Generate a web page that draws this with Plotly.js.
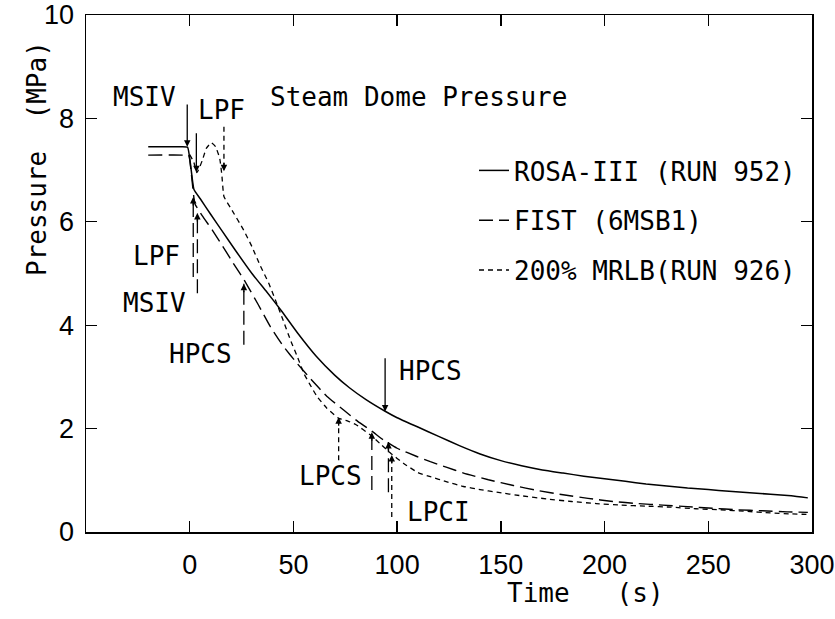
<!DOCTYPE html>
<html>
<head>
<meta charset="utf-8">
<script src="https://cdn.plot.ly/plotly-3.0.1.min.js"></script>
<style>html,body{margin:0;padding:0;background:#fff;}#chart{width:835px;height:619px;}</style>
</head>
<body>
<div id="chart"></div>
<script>
// ---- data ----
const seriesNames = ["ROSA-III (RUN 952)", "FIST (6MSB1)", "200% MRLB(RUN 926)"];

const rosaT = [-20, -4, -1, 2, 5, 10, 16, 22, 30, 37, 44, 52, 61, 70, 77, 85, 94, 100, 110, 120, 130, 140, 150, 160, 170, 180, 190, 200, 210, 220, 230, 240, 250, 260, 270, 280, 290, 298];
const rosaP = [7.45, 7.45, 7.44, 6.63, 6.45, 6.15, 5.80, 5.45, 5.00, 4.65, 4.29, 3.85, 3.40, 3.03, 2.79, 2.56, 2.34, 2.21, 2.03, 1.85, 1.67, 1.51, 1.38, 1.28, 1.20, 1.14, 1.08, 1.03, 0.98, 0.93, 0.89, 0.85, 0.82, 0.79, 0.76, 0.73, 0.70, 0.66];

const fistT = [-20, -3, -0.5, 1, 2.5, 6, 10.9, 16, 21, 26.9, 33, 38.9, 45, 51.8, 59, 66.2, 74.2, 81, 87.8, 93.4, 100, 109.5, 116, 124, 132, 144, 156, 168, 180, 192, 204, 216, 228, 240, 252, 264, 276, 288, 298];
const fistP = [7.29, 7.29, 7.28, 6.85, 6.35, 6.12, 5.84, 5.52, 5.20, 4.83, 4.40, 3.97, 3.60, 3.26, 2.93, 2.62, 2.36, 2.14, 1.95, 1.78, 1.62, 1.46, 1.36, 1.25, 1.14, 1.01, 0.90, 0.80, 0.72, 0.65, 0.59, 0.55, 0.52, 0.49, 0.46, 0.43, 0.41, 0.39, 0.38];

const mrlbT = [0, 2, 3.5, 6, 8, 10.4, 12.5, 14.5, 15.5, 16.5, 20, 26, 30, 34, 38, 41.3, 45, 48.6, 52, 55, 58, 61.4, 66, 71.8, 76, 80, 87, 92, 97, 103, 110, 116, 124, 132, 140, 148, 160, 172, 184, 196, 208, 220, 232, 244, 256, 268, 280, 290, 298];
const mrlbP = [7.30, 7.15, 6.95, 7.18, 7.42, 7.53, 7.45, 7.22, 6.90, 6.49, 6.25, 5.84, 5.52, 5.15, 4.82, 4.49, 4.10, 3.71, 3.38, 3.07, 2.85, 2.62, 2.40, 2.20, 2.15, 2.08, 1.88, 1.70, 1.52, 1.33, 1.15, 1.07, 0.97, 0.88, 0.82, 0.77, 0.70, 0.64, 0.59, 0.55, 0.52, 0.50, 0.48, 0.45, 0.43, 0.40, 0.37, 0.35, 0.34];

const xTickVals = [0, 50, 100, 150, 200, 250, 300];
const xTickText = ["0", "50", "100", "150", "200", "250", "300"];
const yTickVals = [0, 2, 4, 6, 8, 10];
const yTickText = ["0", "2", "4", "6", "8", "10"];

// event markers: [time, pressure at tip, pressure at tail]
const solidEvents  = [[-1.2, 7.45, 8.30], [3.2, 6.96, 7.74], [94.2, 2.33, 3.39]];
const dashedEvents = [[1.7, 6.48, 4.93], [3.7, 6.17, 4.62], [26.1, 4.80, 3.62], [87.8, 1.93, 0.81], [95.8, 1.74, 0.77]];
const dottedEvents = [[16.5, 6.98, 7.84], [71.8, 2.22, 1.39], [97.4, 1.49, 0.29]];

// ---- layout helpers ----
const L = 86, R = 812, T = 15, B = 532;
const px = v => (v - L) / (R - L);
const py = v => (B - v) / (B - T);
const MONO = "DejaVu Sans Mono";
const SANS = "Liberation Sans";
const LONGDASH = "14px,6px";
const SHORTDASH = "5px,4px";

const traces = [
  {x: rosaT, y: rosaP, name: seriesNames[0], legendgroup: "a", mode: "lines", line: {color: "#000", width: 1.5, shape: "spline", smoothing: 0.4}},
  {x: fistT, y: fistP, name: seriesNames[1], legendgroup: "b", mode: "lines", line: {color: "#000", width: 1.4, dash: LONGDASH, shape: "spline", smoothing: 0.4}},
  {x: mrlbT, y: mrlbP, name: seriesNames[2], legendgroup: "c", mode: "lines", line: {color: "#000", width: 1.3, dash: SHORTDASH, shape: "spline", smoothing: 0.4}}
];

const txt = (text, x, y, xanchor) => ({text, x: px(x), y: py(y), xref: "paper", yref: "paper", xanchor, yanchor: "middle", showarrow: false, font: {family: MONO, size: 26, color: "#000"}});

const annotations = [
  txt("MSIV", 144, 97, "center"),
  txt("LPF", 196, 110, "left"),
  txt("Steam Dome Pressure", 268, 97, "left"),
  txt("LPF", 182, 256, "right"),
  txt("MSIV", 188, 303, "right"),
  txt("HPCS", 234, 354, "right"),
  txt("HPCS", 397, 371, "left"),
  txt("LPCS", 364, 476, "right"),
  txt("LPCI", 405, 512, "left"),
  txt("Time   (s)", 505, 593, "left"),
  Object.assign(txt("Pressure  (MPa)", 37, 159, "center"), {textangle: -90})
];

const shapes = [];
solidEvents.forEach(e => annotations.push({x: e[0], y: e[1], ax: e[0], ay: e[2], xref: "x", yref: "y", axref: "x", ayref: "y", text: "", showarrow: true, arrowhead: 2, arrowsize: 1, arrowwidth: 1.3, arrowcolor: "#000"}));
[[dashedEvents, LONGDASH], [dottedEvents, SHORTDASH]].forEach(([list, dash]) => {
  list.forEach(e => {
    shapes.push({type: "line", xref: "x", yref: "y", x0: e[0], x1: e[0], y0: e[2], y1: e[1], line: {color: "#000", width: 1.3, dash}});
    annotations.push({x: e[0], y: e[1], ax: 0, ay: e[2] < e[1] ? 10 : -10, xref: "x", yref: "y", text: "", showarrow: true, arrowhead: 2, arrowsize: 1, arrowwidth: 1.3, arrowcolor: "#000"});
  });
});

const axisCommon = {showline: true, linecolor: "#000", linewidth: 1.5, mirror: "ticks", ticks: "inside", ticklen: 11, tickwidth: 1.3, tickcolor: "#000", showgrid: false, zeroline: false, tickfont: {family: SANS, size: 27, color: "#000"}, fixedrange: true};

const layout = {
  width: 835, height: 619,
  margin: {l: L, r: 835 - R, t: T, b: 619 - B, pad: 0, autoexpand: false},
  paper_bgcolor: "#fff", plot_bgcolor: "#fff",
  xaxis: Object.assign({}, axisCommon, {range: [-50, 300], tickvals: xTickVals, ticktext: xTickText, ticklabelstandoff: 8}),
  yaxis: Object.assign({}, axisCommon, {range: [0, 10], tickvals: yTickVals, ticktext: yTickText, ticklabelstandoff: 5}),
  showlegend: true,
  legend: {x: px(474), y: py(147), xanchor: "left", yanchor: "top", bgcolor: "rgba(0,0,0,0)", borderwidth: 0, tracegroupgap: 13, font: {family: MONO, size: 26, color: "#000"}},
  annotations, shapes
};

Plotly.newPlot("chart", traces, layout, {staticPlot: true, displayModeBar: false});
</script>
</body>
</html>
